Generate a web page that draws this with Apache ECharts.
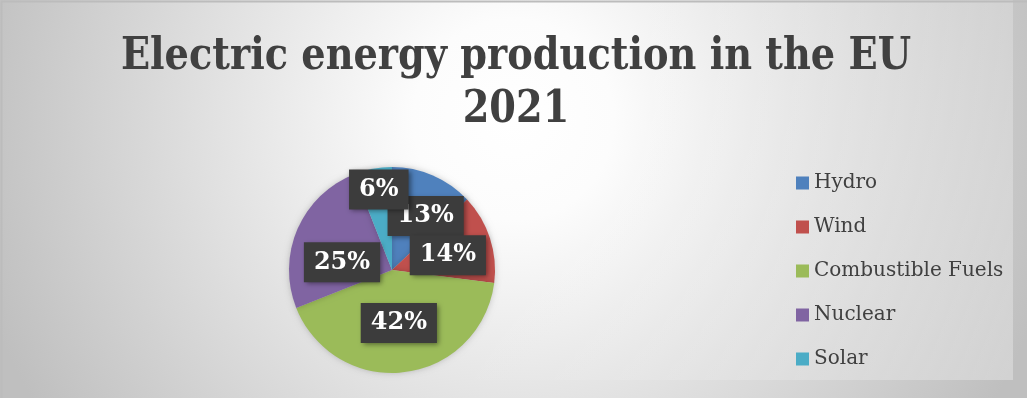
<!DOCTYPE html>
<html>
<head>
<meta charset="utf-8">
<script src="https://cdn.jsdelivr.net/npm/echarts@6/dist/echarts.min.js"></script>
<style>
html,body{margin:0;padding:0;background:#fff;}
#chart{width:1027px;height:398px;}
</style>
</head>
<body>
<div id="chart"></div>
<script>
const titleLines = ['Electric energy production in the EU', '2021'];
const categories = ['Hydro', 'Wind', 'Combustible Fuels', 'Nuclear', 'Solar'];
const values = [13, 14, 42, 25, 6];
const colors = ['#4f81bd', '#c0504d', '#9bbb59', '#8064a2', '#4bacc6'];
const labelOffsets = [[12, -4], [4, 2], [0, -1], [0, 14], [-3, -27]];

const chart = echarts.init(document.getElementById('chart'), null, {renderer: 'canvas'});
const serif = '"DejaVu Serif", "Liberation Serif", serif';

chart.setOption({
  animation: false,
  backgroundColor: {
    type: 'radial', x: 0.5, y: 0.3, r: 1.4,
    colorStops: [
      {offset: 0, color: '#ffffff'},
      {offset: 0.18, color: '#fcfcfc'},
      {offset: 1, color: '#bfbfbf'}
    ]
  },
  color: colors,
  graphic: [
    {type: 'rect', silent: true, z: -1,
     shape: {x: 0, y: 0, width: 1013, height: 380},
     style: {fill: {type: 'linear', x: 0, y: 0, x2: 1, y2: 1, colorStops: [
       {offset: 0, color: 'rgba(255,255,255,0)'},
       {offset: 0.5, color: 'rgba(255,255,255,0)'},
       {offset: 1, color: 'rgba(255,255,255,0.3)'}]}}},
    {type: 'rect', silent: true, z: -1,
     shape: {x: 1.5, y: 1.5, width: 1060, height: 420},
     style: {fill: 'none', stroke: '#bcbcbc', lineWidth: 2}},
    {type: 'text', silent: true, x: 516, y: 58, scaleX: 0.87,
     style: {text: titleLines[0], fontFamily: serif, fontWeight: 'bold', fontSize: 44,
             fill: '#404040', align: 'center', verticalAlign: 'middle'}},
    {type: 'text', silent: true, x: 516, y: 111, scaleX: 0.87,
     style: {text: titleLines[1], fontFamily: serif, fontWeight: 'bold', fontSize: 44,
             fill: '#404040', align: 'center', verticalAlign: 'middle'}}
  ],
  legend: {
    orient: 'vertical',
    left: 796,
    top: 173,
    padding: 0,
    icon: 'rect',
    itemWidth: 13,
    itemHeight: 13,
    itemGap: 24,
    itemTextGap: 6,
    data: categories,
    textStyle: {fontFamily: serif, fontSize: 20, color: '#404040'}
  },
  series: [{
    type: 'pie',
    center: [392, 270],
    radius: 103,
    startAngle: 90,
    clockwise: true,
    avoidLabelOverlap: false,
    labelLayout: {hideOverlap: false},
    itemStyle: {shadowBlur: 6, shadowColor: 'rgba(0,0,0,0.2)'},
    label: {
      show: true,
      position: 'inside',
      formatter: '{d}%',
      fontFamily: serif, fontWeight: 'bold', fontSize: 24, lineHeight: 26,
      color: '#ffffff',
      backgroundColor: '#3c3c3c',
      padding: [7, 10],
      shadowColor: 'rgba(0,0,0,0.45)', shadowBlur: 5, shadowOffsetX: 2, shadowOffsetY: 2
    },
    labelLine: {show: false},
    emphasis: {disabled: true},
    data: categories.map((c, i) => ({
      name: c, value: values[i],
      label: {offset: labelOffsets[i]}
    }))
  }]
});
</script>
</body>
</html>
